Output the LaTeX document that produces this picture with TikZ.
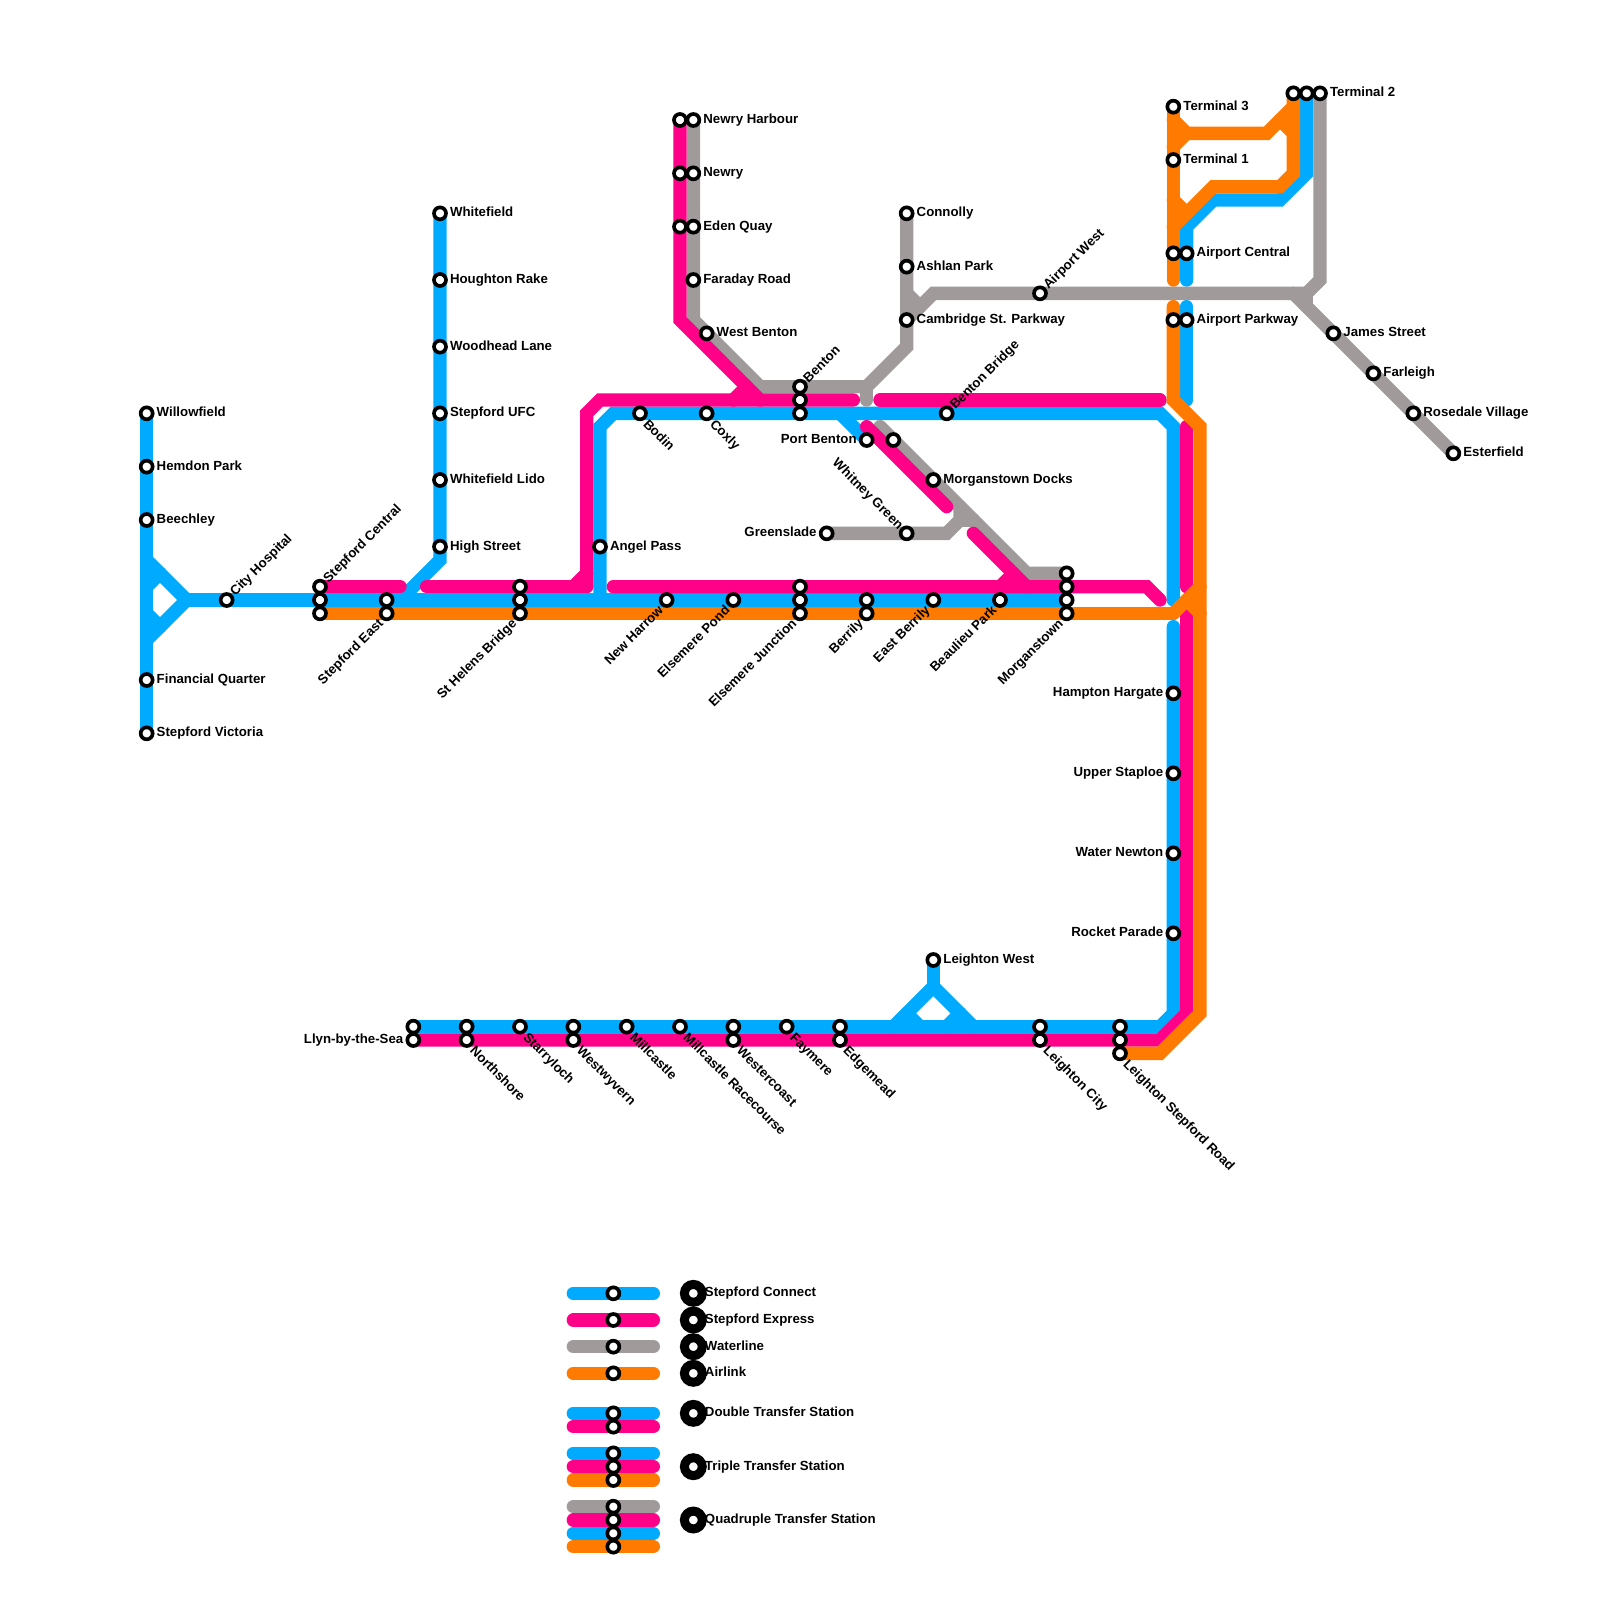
\documentclass[tikz,border=0pt]{standalone}
\usepackage{fontspec}
\setmainfont{Liberation Sans}
\usepackage{xcolor}
\usetikzlibrary{backgrounds}

\definecolor{connectblue}{HTML}{00AAFF}
\definecolor{expresspink}{HTML}{FF0088}
\definecolor{watergrey}{HTML}{A09A9A}
\definecolor{airorange}{HTML}{FF7A00}

\begin{document}
\begin{tikzpicture}[
        x=0.4cm, y=-0.4cm,
        font=\fontsize{11.3}{13}\selectfont\bfseries,
        stn/.style={circle, draw=black, fill=white, line width=0.11cm, inner sep=0pt, minimum size=0.36cm},
        bigstn/.style={circle, draw=black, fill=white, line width=0.27cm, inner sep=0pt, minimum size=0.535cm},
        lbl/.style={inner sep=0pt, text height=0.72em, text depth=0pt},
        lr/.style={label={[lbl, anchor=west, yshift=0.025cm, label distance=0.06cm]0:#1}},
        ll/.style={label={[lbl, anchor=east, yshift=0.025cm, label distance=0.06cm]180:#1}},
        ne/.style={label={[lbl, rotate=45, anchor=west, label distance=0.02cm]45:#1}},
        nw/.style={label={[lbl, rotate=-45, anchor=east, label distance=0.02cm]135:#1}},
        se/.style={label={[lbl, rotate=-45, anchor=west, label distance=0.09cm]-45:#1}},
        sw/.style={label={[lbl, rotate=45, anchor=east, label distance=0.07cm]225:#1}},
        bigl/.style={label={[lbl, anchor=west, yshift=0.025cm, label distance=-0.06cm]0:#1}},
        connect/.style={line width=0.4cm, line cap=round, color=connectblue},
        express/.style={line width=0.4cm, line cap=round, color=expresspink},
        water/.style={line width=0.4cm, line cap=round, color=watergrey},
        air/.style={line width=0.4cm, line cap=round, color=airorange}
    ]
    \useasboundingbox (0,0) rectangle (120,120);

    % western branch
    \node[stn, lr=Willowfield] (willowfield) at (11,31) {};
    \node[stn, lr=Hemdon Park] (hemdon) at (11,35) {};
    \node[stn, lr=Beechley] (beechley) at (11,39) {};
    \node[stn, lr=Financial Quarter] (financial) at (11,51) {};
    \node[stn, lr=Stepford Victoria] (victoria) at (11,55) {};
    \node[stn, ne=City Hospital] (cityhospital) at (17,45) {};

    % cross-town corridor
    \node[stn, ne=Stepford Central] (stepcentrala) at (24,44) {};
    \node[stn] (stepcentralb) at (24,45) {};
    \node[stn] (stepcentralc) at (24,46) {};
    \node[stn] (stepeasta) at (29,45) {};
    \node[stn, sw=Stepford East] (stepeastb) at (29,46) {};
    \node[stn] (sthelensa) at (39,44) {};
    \node[stn] (sthelensb) at (39,45) {};
    \node[stn, sw=St Helens Bridge] (sthelensc) at (39,46) {};
    \node[stn, sw=New Harrow] (newharrow) at (50,45) {};
    \node[stn, sw=Elsemere Pond] (elsemerepond) at (55,45) {};
    \node[stn] (elsemerea) at (60,44) {};
    \node[stn] (elsemereb) at (60,45) {};
    \node[stn, sw=Elsemere Junction] (elsemerec) at (60,46) {};
    \node[stn] (berrilya) at (65,45) {};
    \node[stn, sw=Berrily] (berrilyb) at (65,46) {};
    \node[stn, sw=East Berrily] (eastberrily) at (70,45) {};
    \node[stn, sw=Beaulieu Park] (beaulieu) at (75,45) {};
    \node[stn] (morgana) at (80,43) {};
    \node[stn] (morganb) at (80,44) {};
    \node[stn] (morganc) at (80,45) {};
    \node[stn, sw=Morganstown] (morgand) at (80,46) {};

    % whitefield branch
    \node[stn, lr=Whitefield] (whitefield) at (33,16) {};
    \node[stn, lr=Houghton Rake] (houghton) at (33,21) {};
    \node[stn, lr=Woodhead Lane] (woodhead) at (33,26) {};
    \node[stn, lr=Stepford UFC] (stepufc) at (33,31) {};
    \node[stn, lr=Whitefield Lido] (whitelido) at (33,36) {};
    \node[stn, lr=High Street] (highstreet) at (33,41) {};
    \node[stn, lr=Angel Pass] (angelpass) at (45,41) {};

    % benton and newry
    \node[stn] (newryharboura) at (51,9) {};
    \node[stn, lr=Newry Harbour] (newryharbourb) at (52,9) {};
    \node[stn] (newrya) at (51,13) {};
    \node[stn, lr=Newry] (newryb) at (52,13) {};
    \node[stn] (edena) at (51,17) {};
    \node[stn, lr=Eden Quay] (edenb) at (52,17) {};
    \node[stn, lr=Faraday Road] (faraday) at (52,21) {};
    \node[stn, lr=West Benton] (westbenton) at (53,25) {};
    \node[stn, se=Bodin] (bodin) at (48,31) {};
    \node[stn, se=Coxly] (coxly) at (53,31) {};
    \node[stn, ne=Benton] (bentona) at (60,29) {};
    \node[stn] (bentonb) at (60,30) {};
    \node[stn] (bentonc) at (60,31) {};
    \node[stn, ne=Benton Bridge] (bentonbridge) at (71,31) {};
    \node[stn, ll=Port Benton] (portbenton) at (65,33) {};
    \node[stn] (waterstop) at (67,33) {};
    \node[stn, lr=Morganstown Docks] (morgandocks) at (70,36) {};
    \node[stn, ll=Greenslade] (greenslade) at (62,40) {};
    \node[stn, nw=Whitney Green] (whitney) at (68,40) {};
    \node[stn, lr=Connolly] (connolly) at (68,16) {};
    \node[stn, lr=Ashlan Park] (ashlan) at (68,20) {};
    \node[stn, lr=Cambridge St. Parkway] (cambridge) at (68,24) {};
    \node[stn, ne=Airport West] (airportwest) at (78,22) {};

    % airport
    \node[stn, lr=Terminal 3] (terminalthree) at (88,8) {};
    \node[stn, lr=Terminal 1] (terminalone) at (88,12) {};
    \node[stn] (aircentrala) at (88,19) {};
    \node[stn, lr=Airport Central] (aircentralb) at (89,19) {};
    \node[stn] (airparka) at (88,24) {};
    \node[stn, lr=Airport Parkway] (airparkb) at (89,24) {};
    \node[stn] (terminaltwoa) at (97,7) {};
    \node[stn] (terminaltwob) at (98,7) {};
    \node[stn, lr=Terminal 2] (terminaltwoc) at (99,7) {};
    \node[stn, lr=James Street] (james) at (100,25) {};
    \node[stn, lr=Farleigh] (farleigh) at (103,28) {};
    \node[stn, lr=Rosedale Village] (rosedale) at (106,31) {};
    \node[stn, lr=Esterfield] (esterfield) at (109,34) {};

    % eastern side
    \node[stn, ll=Hampton Hargate] (hampton) at (88,52) {};
    \node[stn, ll=Upper Staploe] (staploe) at (88,58) {};
    \node[stn, ll=Water Newton] (newton) at (88,64) {};
    \node[stn, ll=Rocket Parade] (rocket) at (88,70) {};
    \node[stn, lr=Leighton West] (leightonwest) at (70,72) {};

    % coast
    \node[stn] (llyna) at (31,77) {};
    \node[stn, ll=Llyn-by-the-Sea] (llynb) at (31,78) {};
    \node[stn] (northa) at (35,77) {};
    \node[stn, se=Northshore] (northb) at (35,78) {};
    \node[stn, se=Starryloch] (starryloch) at (39,77) {};
    \node[stn] (wyverna) at (43,77) {};
    \node[stn, se=Westwyvern] (wyvernb) at (43,78) {};
    \node[stn, se=Millcastle] (millcastle) at (47,77) {};
    \node[stn, se=Millcastle Racecourse] (racecourse) at (51,77) {};
    \node[stn] (westcoasta) at (55,77) {};
    \node[stn, se=Westercoast] (westcoastb) at (55,78) {};
    \node[stn, se=Faymere] (faymere) at (59,77) {};
    \node[stn] (edgemeada) at (63,77) {};
    \node[stn, se=Edgemead] (edgemeadb) at (63,78) {};
    \node[stn] (leightona) at (78,77) {};
    \node[stn, se=Leighton City] (leightonb) at (78,78) {};
    \node[stn] (lsra) at (84,77) {};
    \node[stn] (lsrb) at (84,78) {};
    \node[stn, se=Leighton Stepford Road] (lsrc) at (84,79) {};

    % legend
    \node[stn] (legconnect) at (46,97) {};
    \node[stn] (legexpress) at (46,99) {};
    \node[stn] (legwater) at (46,101) {};
    \node[stn] (legair) at (46,103) {};
    \node[stn] (legda) at (46,106) {};
    \node[stn] (legdb) at (46,107) {};
    \node[stn] (legta) at (46,109) {};
    \node[stn] (legtb) at (46,110) {};
    \node[stn] (legtc) at (46,111) {};
    \node[stn] (legqa) at (46,113) {};
    \node[stn] (legqb) at (46,114) {};
    \node[stn] (legqc) at (46,115) {};
    \node[stn] (legqd) at (46,116) {};
    \node[bigstn, bigl=Stepford Connect] (keyconnect) at (52,97) {};
    \node[bigstn, bigl=Stepford Express] (keyexpress) at (52,99) {};
    \node[bigstn, bigl=Waterline] (keywater) at (52,101) {};
    \node[bigstn, bigl=Airlink] (keyair) at (52,103) {};
    \node[bigstn, bigl=Double Transfer Station] (keydouble) at (52,106) {};
    \node[bigstn, bigl=Triple Transfer Station] (keytriple) at (52,110) {};
    \node[bigstn, bigl=Quadruple Transfer Station] (keyquad) at (52,114) {};

    % bends
    \coordinate (yn) at (11,42);
    \coordinate (ym) at (14,45);
    \coordinate (ys) at (11,48);
    \coordinate (yna) at (11,44);
    \coordinate (ynb) at (12,43);
    \coordinate (ysa) at (11,46);
    \coordinate (ysb) at (12,47);
    \coordinate (whitea) at (33,42);
    \coordinate (whiteb) at (30,45);
    \coordinate (loopa) at (45,45);
    \coordinate (loopb) at (45,32);
    \coordinate (loopc) at (46,31);
    \coordinate (loopd) at (87,31);
    \coordinate (loope) at (88,32);
    \coordinate (loopf) at (88,45);
    \coordinate (portb) at (63,31);
    \coordinate (easta) at (88,47);
    \coordinate (eastb) at (88,76);
    \coordinate (eastc) at (87,77);
    \coordinate (tria) at (70,74);
    \coordinate (trib) at (67,77);
    \coordinate (tric) at (73,77);
    \coordinate (trid) at (68,76);
    \coordinate (trie) at (69,77);
    \coordinate (trif) at (72,76);
    \coordinate (trig) at (71,77);
    \coordinate (bluea) at (98,13);
    \coordinate (blueb) at (96,15);
    \coordinate (bluec) at (91,15);
    \coordinate (blued) at (89,17);
    \coordinate (bluee) at (89,21);
    \coordinate (bluef) at (89,23);
    \coordinate (blueg) at (89,30);

    \coordinate (newryc) at (51,24);
    \coordinate (newryd) at (57,30);
    \coordinate (expa) at (30,44);
    \coordinate (expb) at (32,44);
    \coordinate (expc) at (44,44);
    \coordinate (expd) at (44,31);
    \coordinate (expe) at (45,30);
    \coordinate (expf) at (64,30);
    \coordinate (expg) at (43,44);
    \coordinate (exph) at (44,43);
    \coordinate (expi) at (55,30);
    \coordinate (expj) at (56,29);
    \coordinate (expk) at (66,30);
    \coordinate (expl) at (87,30);
    \coordinate (expm) at (65,32);
    \coordinate (expn) at (71,38);
    \coordinate (expo) at (73,40);
    \coordinate (expp) at (77,44);
    \coordinate (expq) at (75,44);
    \coordinate (expr) at (76,43);
    \coordinate (exps) at (46,44);
    \coordinate (expt) at (86,44);
    \coordinate (expu) at (87,45);
    \coordinate (expv) at (89,32);
    \coordinate (expw) at (89,44);
    \coordinate (expx) at (89,46);
    \coordinate (expy) at (89,76);
    \coordinate (expz) at (87,78);

    \coordinate (wata) at (52,24);
    \coordinate (watb) at (57,29);
    \coordinate (watc) at (65,29);
    \coordinate (watd) at (68,26);
    \coordinate (wate) at (65,30);
    \coordinate (watf) at (66,32);
    \coordinate (watg) at (77,43);
    \coordinate (wath) at (71,40);
    \coordinate (wati) at (72,39);
    \coordinate (watj) at (72,38);
    \coordinate (watk) at (73,39);
    \coordinate (watl) at (70,22);
    \coordinate (watm) at (98,22);
    \coordinate (watn) at (99,21);
    \coordinate (wato) at (68,22);
    \coordinate (watp) at (69,23);
    \coordinate (watq) at (97,22);
    \coordinate (watr) at (98,23);

    \coordinate (aira) at (88,46);
    \coordinate (airb) at (90,44);
    \coordinate (airc) at (89,45);
    \coordinate (aird) at (90,46);
    \coordinate (aire) at (88,21);
    \coordinate (airf) at (88,9);
    \coordinate (airg) at (89,10);
    \coordinate (airh) at (95,10);
    \coordinate (airi) at (97,8);
    \coordinate (airj) at (88,11);
    \coordinate (airk) at (96,9);
    \coordinate (airl) at (97,10);
    \coordinate (airm) at (97,13);
    \coordinate (airn) at (96,14);
    \coordinate (airo) at (91,14);
    \coordinate (airp) at (88,17);
    \coordinate (airq) at (88,15);
    \coordinate (airr) at (89,16);
    \coordinate (airs) at (88,23);
    \coordinate (airt) at (88,30);
    \coordinate (airu) at (90,32);
    \coordinate (airv) at (90,76);
    \coordinate (airw) at (87,79);

    \begin{scope}[on background layer]
        % Stepford Connect
        \draw[connect] (willowfield.center) -- (victoria.center);
        \draw[connect] (yn) -- (ym) -- (ys);
        \draw[connect] (yna) -- (ynb);
        \draw[connect] (ysa) -- (ysb);
        \draw[connect] (ym) -- (morganc.center);
        \draw[connect] (whitefield.center) -- (whitea) -- (whiteb);
        \draw[connect] (loopa) -- (loopb) -- (loopc) -- (loopd) -- (loope) -- (loopf);
        \draw[connect] (portb) -- (portbenton.center);
        \draw[connect] (easta) -- (eastb) -- (eastc) -- (llyna.center);
        \draw[connect] (leightonwest.center) -- (tria);
        \draw[connect] (trib) -- (tria) -- (tric);
        \draw[connect] (trid) -- (trie);
        \draw[connect] (trif) -- (trig);
        \draw[connect] (terminaltwob.center) -- (bluea) -- (blueb) -- (bluec) -- (blued) -- (bluee);
        \draw[connect] (bluef) -- (blueg);

        % Waterline
        \draw[water] (newryharbourb.center) -- (wata) -- (watb) -- (watc) -- (watd) -- (connolly.center);
        \draw[water] (watc) -- (wate);
        \draw[water] (watf) -- (watg) -- (morgana.center);
        \draw[water] (greenslade.center) -- (wath) -- (wati) -- (watj);
        \draw[water] (wati) -- (watk);
        \draw[water] (cambridge.center) -- (watl) -- (watm) -- (watn) -- (terminaltwoc.center);
        \draw[water] (wato) -- (watp);
        \draw[water] (watq) -- (esterfield.center);
        \draw[water] (watm) -- (watr);

        % Stepford Express
        \draw[express] (newryharboura.center) -- (newryc) -- (newryd);
        \draw[express] (stepcentrala.center) -- (expa);
        \draw[express] (expb) -- (expc);
        \draw[express] (expc) -- (expd) -- (expe) -- (expf);
        \draw[express] (expg) -- (exph);
        \draw[express] (expi) -- (expj);
        \draw[express] (expk) -- (expl);
        \draw[express] (expm) -- (expn);
        \draw[express] (expo) -- (expp);
        \draw[express] (expq) -- (expr);
        \draw[express] (exps) -- (expt) -- (expu);
        \draw[express] (expv) -- (expw);
        \draw[express] (expx) -- (expy) -- (expz) -- (llynb.center);

        % Airlink
        \draw[air] (stepcentralc.center) -- (aira);
        \draw[air] (aira) -- (airb);
        \draw[air] (airc) -- (aird);
        \draw[air] (terminalthree.center) -- (aire);
        \draw[air] (airf) -- (airg) -- (airh) -- (airi);
        \draw[air] (airj) -- (airg);
        \draw[air] (airk) -- (airl);
        \draw[air] (terminaltwoa.center) -- (airm) -- (airn) -- (airo) -- (airp);
        \draw[air] (airq) -- (airr);
        \draw[air] (airs) -- (airt) -- (airu) -- (airv) -- (airw) -- (lsrc.center);

        % legend swatches
        \draw[connect] ([xshift=-1.2cm]legconnect.center) -- ([xshift=1.2cm]legconnect.center);
        \draw[express] ([xshift=-1.2cm]legexpress.center) -- ([xshift=1.2cm]legexpress.center);
        \draw[water] ([xshift=-1.2cm]legwater.center) -- ([xshift=1.2cm]legwater.center);
        \draw[air] ([xshift=-1.2cm]legair.center) -- ([xshift=1.2cm]legair.center);
        \draw[connect] ([xshift=-1.2cm]legda.center) -- ([xshift=1.2cm]legda.center);
        \draw[express] ([xshift=-1.2cm]legdb.center) -- ([xshift=1.2cm]legdb.center);
        \draw[connect] ([xshift=-1.2cm]legta.center) -- ([xshift=1.2cm]legta.center);
        \draw[express] ([xshift=-1.2cm]legtb.center) -- ([xshift=1.2cm]legtb.center);
        \draw[air] ([xshift=-1.2cm]legtc.center) -- ([xshift=1.2cm]legtc.center);
        \draw[water] ([xshift=-1.2cm]legqa.center) -- ([xshift=1.2cm]legqa.center);
        \draw[express] ([xshift=-1.2cm]legqb.center) -- ([xshift=1.2cm]legqb.center);
        \draw[connect] ([xshift=-1.2cm]legqc.center) -- ([xshift=1.2cm]legqc.center);
        \draw[air] ([xshift=-1.2cm]legqd.center) -- ([xshift=1.2cm]legqd.center);
    \end{scope}
\end{tikzpicture}
\end{document}
